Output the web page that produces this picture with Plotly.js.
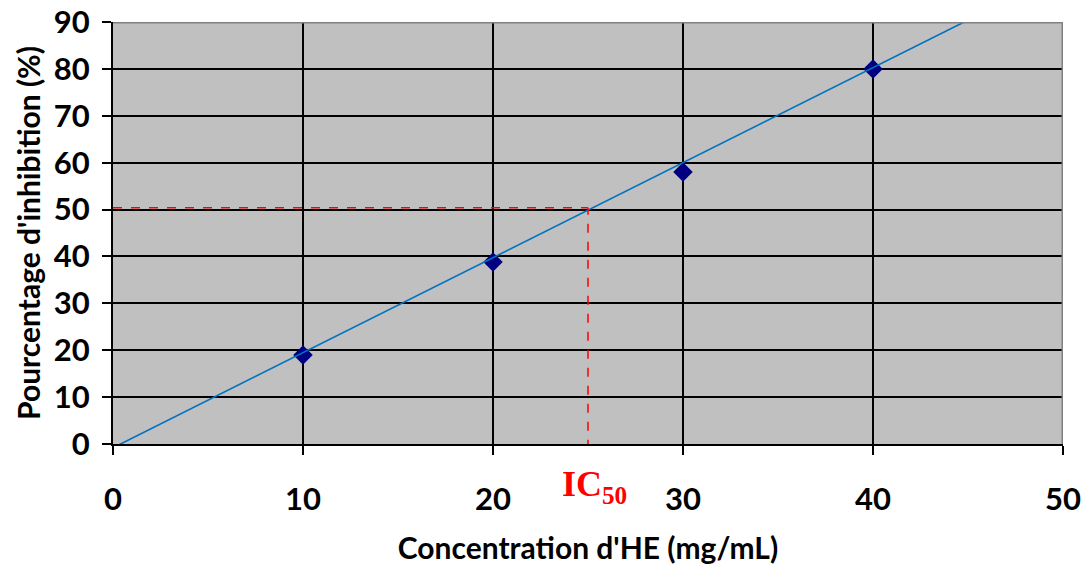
<!DOCTYPE html>
<html>
<head>
<meta charset="utf-8">
<script src="https://cdn.plot.ly/plotly-3.0.1.min.js"></script>
<style>html,body{margin:0;padding:0;background:#fff;}#chart{width:1085px;height:570px;}</style>
</head>
<body>
<div id="chart"></div>
<script>
// Measured points
const concentration = [10, 20, 30, 40];
const inhibition = [19, 38.8, 58, 80];
// Trend line endpoints
const trendX = [0, 45];
const trendY = [-0.8, 90.4];
// IC50 guide
const ic50X = 25;
const ic50Y = 50.4;
const xTicks = [0, 10, 20, 30, 40, 50];
const yTicks = [0, 10, 20, 30, 40, 50, 60, 70, 80, 90];

const font = 'Lato, "Open Sans", sans-serif';
const tickFont = {family: font, size: 31, color: '#000000', weight: 'bold'};

const traces = [
  {
    x: concentration, y: inhibition, type: 'scatter', mode: 'markers',
    marker: {symbol: 'diamond', size: 15, color: '#000080'},
    hoverinfo: 'x+y', showlegend: false
  },
  {
    x: trendX, y: trendY, type: 'scatter', mode: 'lines',
    line: {color: '#0070C0', width: 1.6},
    hoverinfo: 'skip', showlegend: false
  }
];

const layout = {
  width: 1085, height: 570,
  margin: {l: 113, r: 22, t: 22, b: 126},
  paper_bgcolor: '#ffffff',
  plot_bgcolor: '#c0c0c0',
  showlegend: false,
  xaxis: {
    range: [0, 50], tickvals: xTicks, ticktext: xTicks.map(String),
    showgrid: true, gridcolor: '#000000', gridwidth: 2,
    zeroline: false, showline: true, linecolor: '#000000', linewidth: 2,
    ticks: 'outside', ticklen: 9, tickwidth: 2, tickcolor: '#000000',
    ticklabelstandoff: 18,
    tickfont: tickFont,
    title: {text: "Concentration d'HE (mg/mL)", standoff: 22,
      font: {family: font, size: 30, color: '#000000', weight: 'bold'}},
    fixedrange: true
  },
  yaxis: {
    range: [0, 90], tickvals: yTicks, ticktext: yTicks.map(String),
    showgrid: true, gridcolor: '#000000', gridwidth: 2,
    zeroline: false, showline: true, linecolor: '#000000', linewidth: 2,
    ticks: 'outside', ticklen: 9, tickwidth: 2, tickcolor: '#000000',
    ticklabelstandoff: 6,
    tickfont: tickFont,
    title: {text: "Pourcentage d'inhibition (%)", standoff: 4,
      font: {family: font, size: 30, color: '#000000', weight: 'bold'}},
    fixedrange: true
  },
  shapes: [
    {type: 'line', xref: 'x', yref: 'y', x0: 0, x1: 50, y0: 90, y1: 90,
      line: {color: '#808080', width: 3}},
    {type: 'line', xref: 'x', yref: 'y', x0: 50, x1: 50, y0: 0, y1: 90,
      line: {color: '#808080', width: 3}},
    {type: 'line', xref: 'x', yref: 'y', x0: 0, x1: ic50X, y0: ic50Y, y1: ic50Y,
      line: {color: '#FF0000', width: 1.5, dash: 'dash'}},
    {type: 'line', xref: 'x', yref: 'y', x0: ic50X, x1: ic50X, y0: -1, y1: ic50Y,
      line: {color: '#FF0000', width: 1.5, dash: 'dash'}}
  ],
  annotations: [
    {xref: 'x', yref: 'paper', x: ic50X + 0.35, y: -0.1, yanchor: 'middle', xanchor: 'center',
      showarrow: false,
      text: 'IC<sub>50</sub>',
      font: {family: '"Liberation Serif", "Times New Roman", serif', size: 36, color: '#FF0000', weight: 'bold'}}
  ]
};

Plotly.newPlot('chart', traces, layout, {displayModeBar: false, staticPlot: true});
</script>
</body>
</html>
